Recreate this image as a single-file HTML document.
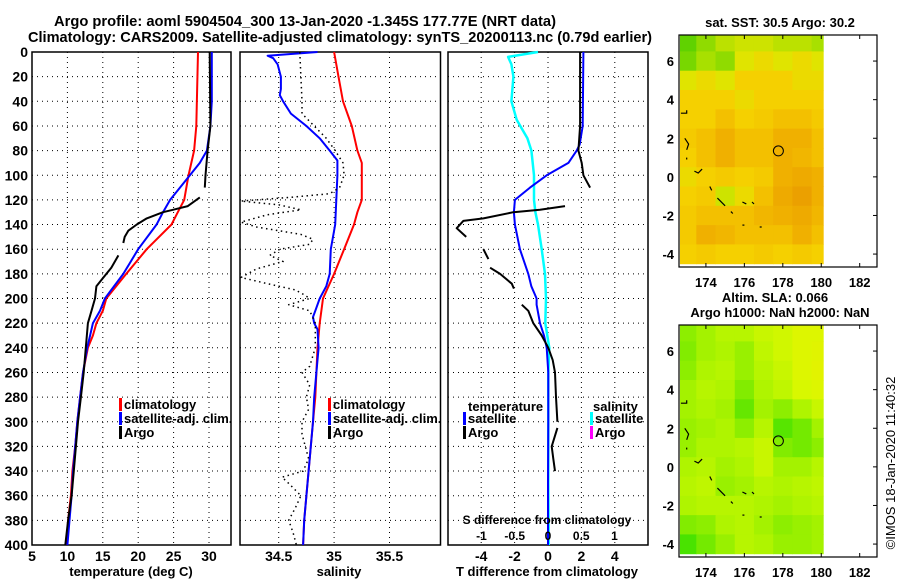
<!DOCTYPE html>
<html><head><meta charset="utf-8">
<style>
html,body{margin:0;padding:0;background:#fff;}
svg{display:block;font-family:"Liberation Sans",sans-serif;font-weight:bold;}
</style></head>
<body>
<svg id="fig" width="900" height="580" viewBox="0 0 900 580" xmlns="http://www.w3.org/2000/svg">
<rect x="0" y="0" width="900" height="580" fill="#fff"/>
<text x="54" y="26" font-size="15" textLength="502" lengthAdjust="spacingAndGlyphs">Argo profile: aoml 5904504_300 13-Jan-2020 -1.345S 177.77E (NRT data)</text>
<text x="28" y="42" font-size="15" textLength="624" lengthAdjust="spacingAndGlyphs">Climatology: CARS2009. Satellite-adjusted climatology: synTS_20200113.nc (0.79d earlier)</text>
<g id="g1"></g>
<g id="g2"></g>
<g id="g3"></g>
<g id="m1"></g>
<g id="m2"></g>
<text x="780" y="27" font-size="13" text-anchor="middle">sat. SST: 30.5 Argo: 30.2</text>
<text x="775" y="302" font-size="13" text-anchor="middle">Altim. SLA: 0.066</text>
<text x="780" y="317" font-size="13" text-anchor="middle">Argo h1000: NaN h2000: NaN</text>
<text font-size="13" font-weight="normal" text-anchor="middle" transform="translate(895,463) rotate(-90)">©IMOS 18-Jan-2020 11:40:32</text>
</svg>
<script>
// ---- Panel 1: temperature ----
const tDepthClim = [0,60,80,100,120,130,140,160,180,200,210,220,230,240,260,280,300,320,340,360,380,400];
const tClim = [28.45,28.2,27.9,27.1,26.5,25.6,24.7,21.2,18.3,15.5,15.0,14.1,13.6,12.9,12.2,11.8,11.4,11.1,10.7,10.5,10.1,9.9];
const tDepthSat = [0,40,60,80,90,100,120,130,140,160,180,200,210,220,230,240,260,280,300,320,340,360,380,400];
const tSat = [30.4,30.4,30.2,29.7,28.7,27.3,24.5,23.5,22.6,20.0,17.9,15.3,14.6,13.6,13.2,12.8,12.2,11.8,11.4,11.1,10.8,10.6,10.3,10.0];
const tDepthArgo = [0,60,80,100,110,null,118,125,128,130,135,140,145,150,155,null,165,175,185,190,200,210,220,240,260,280,300,320,340,360,380,400];
const tArgo = [30.1,30.2,29.8,29.5,29.4,null,28.7,27.0,24.9,23.5,21.2,19.8,18.6,18.1,17.9,null,17.2,16.2,14.8,14.1,13.9,13.4,12.9,12.6,12.3,11.9,11.5,11.2,10.9,10.6,10.1,9.7];
const tTicks = [5,10,15,20,25,30];
// ---- Panel 2: salinity ----
const sDepthClim = [0,20,40,60,80,90,100,120,130,140,160,180,200,220,240,260,280,300,320,340,360,380,400];
const sClim = [35.0,35.04,35.08,35.16,35.21,35.25,35.25,35.25,35.21,35.18,35.09,35.0,34.9,34.87,34.85,34.84,34.83,34.81,34.79,34.77,34.75,34.73,34.72];
const sDepthSat = [0,3,5,10,20,30,35,40,50,60,70,80,88,100,120,140,160,180,190,200,210,215,220,225,240,260,280,300,320,340,360,380,400];
const sSat = [34.85,34.40,34.45,34.49,34.52,34.52,34.51,34.54,34.61,34.75,34.87,34.96,35.03,35.03,35.02,35.01,34.97,34.96,34.93,34.87,34.83,34.81,34.82,34.85,34.86,34.84,34.82,34.81,34.79,34.77,34.75,34.73,34.72];
const sDepthArgo = [0,20,40,50,60,70,80,90,100,110,115,118,121,124,128,132,138,142,148,152,156,160,165,170,176,183,188,193,197,200,205,210,220,240,255,260,270,280,290,300,310,320,330,340,345,350,360,370,380,390,400];
const sArgo = [34.69,34.70,34.71,34.71,34.82,34.93,35.01,35.08,35.09,35.05,34.96,34.6,34.16,34.5,34.7,34.4,34.16,34.3,34.7,34.81,34.78,34.51,34.42,34.54,34.3,34.16,34.4,34.65,34.73,34.78,34.59,34.78,34.83,34.83,34.78,34.71,34.78,34.75,34.77,34.71,34.71,34.74,34.77,34.72,34.53,34.59,34.70,34.65,34.59,34.63,34.66];
const sTicks = [34.5,35,35.5];
// ---- Panel 3: differences ----
const dDepthSatT = [0,60,75,80,90,100,110,120,130,140,160,180,190,200,205,220,230,240,260,300,350,400];
const dSatT = [2.12,2.08,1.9,1.72,1.22,-0.08,-1.08,-1.98,-2.04,-1.98,-1.68,-1.18,-1.0,-0.68,-0.68,-0.48,-0.24,-0.08,0.02,0.02,0.0,0.0];
const dDepthSatS = [0,4,10,20,40,55,70,80,100,120,130,140,160,180,200,220,240,260,300,350,400];
const dSatS = [-0.15,-0.6,-0.55,-0.52,-0.55,-0.47,-0.31,-0.25,-0.21,-0.21,-0.19,-0.15,-0.095,-0.045,-0.03,-0.04,0.02,0.005,0.005,0.005,0.01];
const dDepthArgoT = [0,60,80,90,100,110,null,125,128,130,135,137,143,150,null,160,168,null,175,180,188,192,null,205,210,220,230,240,250,260,280,300,null,305,320,330,340];
const dArgoT = [1.92,1.92,1.82,2.02,2.12,2.52,null,1.02,-0.48,-2.08,-3.87,-5.07,-5.47,-4.9,null,-3.87,-3.57,null,-3.47,-2.87,-2.17,-2.04,null,-1.57,-1.18,-0.88,-0.38,0.02,0.28,0.42,0.48,0.56,null,0.56,0.22,0.32,0.42];
const dTTicks = [-4,-2,0,2,4];
const dSTicks = [-1,-0.5,0,0.5,1];
const depthTicks = [0,20,40,60,80,100,120,140,160,180,200,220,240,260,280,300,320,340,360,380,400];
// ---- Maps (1-degree cells, rows lat 7..-4, cols lon 173..180) ----
const mapLons = [173,174,175,176,177,178,179,180];
const mapLats = [7,6,5,4,3,2,1,0,-1,-2,-3,-4];
const sstVals = [
[0.2,0.3,0.4,0.45,0.45,0.4,0.4,0.35],
[0.25,0.35,0.3,0.5,0.55,0.5,0.55,0.5],
[0.5,0.55,0.5,0.6,0.6,0.6,0.55,0.55],
[0.6,0.6,0.6,0.55,0.6,0.6,0.6,0.6],
[0.6,0.6,0.65,0.6,0.62,0.65,0.65,0.62],
[0.62,0.65,0.7,0.65,0.65,0.7,0.7,0.65],
[0.6,0.65,0.7,0.65,0.65,0.7,0.68,0.65],
[0.55,0.6,0.62,0.6,0.62,0.7,0.72,0.7],
[0.6,0.62,0.45,0.55,0.65,0.72,0.75,0.7],
[0.62,0.65,0.65,0.65,0.68,0.7,0.72,0.68],
[0.62,0.7,0.68,0.65,0.65,0.65,0.7,0.65],
[0.6,0.62,0.6,0.6,0.62,0.6,0.62,0.6]];
const slaVals = [
[0.4,0.5,0.6,0.6,0.7,0.75,0.85,0.85],
[0.35,0.5,0.55,0.45,0.65,0.75,0.85,0.88],
[0.4,0.55,0.6,0.45,0.6,0.7,0.85,0.9],
[0.5,0.6,0.55,0.35,0.55,0.65,0.8,0.85],
[0.5,0.55,0.5,0.25,0.5,0.4,0.55,0.7],
[0.45,0.5,0.55,0.4,0.6,0.2,0.3,0.5],
[0.45,0.55,0.55,0.6,0.7,0.35,0.3,0.4],
[0.55,0.6,0.5,0.55,0.7,0.5,0.5,0.6],
[0.6,0.65,0.45,0.5,0.6,0.55,0.6,0.65],
[0.55,0.6,0.6,0.6,0.55,0.5,0.55,0.6],
[0.35,0.4,0.55,0.6,0.5,0.4,0.45,0.5],
[0.15,0.3,0.45,0.6,0.55,0.45,0.45,0.5]];
const floatLon = [177.77];
const floatLat = [1.345];
const mapXTicks = [174,176,178,180,182];
const mapYTicks = [6,4,2,0,-2,-4];

const NS = "http://www.w3.org/2000/svg";
function mk(tag, attrs, parent){const e=document.createElementNS(NS,tag);for(const k in attrs)e.setAttribute(k,attrs[k]);parent.appendChild(e);return e;}
const PT=52, PB=545;
const yD = d => PT + (d/400)*(PB-PT);

function panel(g, x0, x1, xs, ticks, fmt, showY, name){
  for(const d of depthTicks){
    const y=yD(d);
    const gl=mk('line',{x1:x0,x2:x1,y1:y,y2:y,stroke:'#000','stroke-width':1,'stroke-dasharray':'1,4'},g);
    
    
    if(showY){
      const t=mk('text',{x:x0-4,y:y+5,'font-size':14,'text-anchor':'end'},g);
      t.textContent=d;
      
      
    }
  }
  for(const v of ticks){
    const x=xs(v);
    const gl=mk('line',{x1:x,x2:x,y1:PT,y2:PB,stroke:'#000','stroke-width':1,'stroke-dasharray':'1,4'},g);
    
    
    if(fmt){
      const t=mk('text',{x:x,y:561,'font-size':14,'text-anchor':'middle'},g);
      t.textContent=fmt(v);
      
      
    }
  }
  const fr=mk('rect',{x:x0,y:PT,width:x1-x0,height:PB-PT,fill:'none',stroke:'#000','stroke-width':1.5},g);
  
  
}
function series(g, depths, vals, xs, color, w, dash, name){
  let segs=[],cur=[];
  for(let i=0;i<vals.length;i++){
    if(vals[i]===null||depths[i]===null){if(cur.length)segs.push(cur);cur=[];continue;}
    cur.push(xs(vals[i]).toFixed(1)+','+yD(depths[i]).toFixed(1));
  }
  if(cur.length)segs.push(cur);
  for(const s of segs){
    const p=mk('polyline',{points:s.join(' '),fill:'none',stroke:color,'stroke-width':w,'stroke-linejoin':'round'},g);
    if(dash)p.setAttribute('stroke-dasharray',dash);
    
    
  }
}
function legend(g, x, y, color, label, name){
  const r=mk('rect',{x:x,y:y-9,width:3,height:13,fill:color},g);
  
  
  const t=mk('text',{x:x+5,y:y+2,'font-size':13},g);
  t.textContent=label;
  
  
}
function txt(g,x,y,s,str,name,anchor){
  const t=mk('text',{x:x,y:y,'font-size':s,'text-anchor':anchor||'middle'},g);
  t.textContent=str;
  
  
}

// Panel 1
const g1=document.getElementById('g1');
const xT = v => 32 + (v-5)*(177/25);
panel(g1,32,231,xT,tTicks,v=>v,true,'temperature-panel');
series(g1,tDepthClim,tClim,xT,'#ff0000',2,null,'temperature-climatology-line');
series(g1,tDepthSat,tSat,xT,'#0000ff',2,null,'temperature-satellite-line');
series(g1,tDepthArgo,tArgo,xT,'#000',2,null,'temperature-argo-line');
legend(g1,119,407,'#ff0000','climatology','temp-legend-climatology');
legend(g1,119,421,'#0000ff','satellite-adj. clim.','temp-legend-satellite');
legend(g1,119,435,'#000','Argo','temp-legend-argo');
txt(g1,131,576,13,'temperature (deg C)','temperature-axis-title');

// Panel 2
const g2=document.getElementById('g2');
const xS = v => 278.7 + (v-34.5)*110.8;
panel(g2,240,440.5,xS,sTicks,v=>v,false,'salinity-panel');
series(g2,sDepthClim,sClim,xS,'#ff0000',2,null,'salinity-climatology-line');
series(g2,sDepthSat,sSat,xS,'#0000ff',2,null,'salinity-satellite-line');
series(g2,sDepthArgo,sArgo,xS,'#000',1.5,'1.5,3.5','salinity-argo-line');
legend(g2,328,407,'#ff0000','climatology','sal-legend-climatology');
legend(g2,328,421,'#0000ff','satellite-adj. clim.','sal-legend-satellite');
legend(g2,328,435,'#000','Argo','sal-legend-argo');
txt(g2,339,576,13,'salinity','salinity-axis-title');

// Panel 3
const g3=document.getElementById('g3');
const xDT = v => 548 + v*16.7;
const xDS = v => 548 + v*66.5;
panel(g3,448,648,xDT,dTTicks,v=>v,false,'difference-panel');
series(g3,dDepthSatS,dSatS,xDS,'#00ffff',2.5,null,'salinity-diff-satellite-line');
series(g3,dDepthSatT,dSatT,xDT,'#0000ff',2,null,'temperature-diff-satellite-line');
series(g3,dDepthArgoT,dArgoT,xDT,'#000',2,null,'temperature-diff-argo-line');
txt(g3,468,411,13,'temperature','diff-legend-temperature-heading','start');
legend(g3,463,421,'#0000ff','satellite','diff-legend-temp-satellite');
legend(g3,463,435,'#000','Argo','diff-legend-temp-argo');
txt(g3,593,411,13,'salinity','diff-legend-salinity-heading','start');
legend(g3,590,421,'#00ffff','satellite','diff-legend-sal-satellite');
legend(g3,590,435,'#ff00ff','Argo','diff-legend-sal-argo');
txt(g3,547,524,12,'S difference from climatology','s-diff-axis-title');
for(const v of dSTicks){ txt(g3,xDS(v),540,12,String(v),'s-diff-tick-label'); }
txt(g3,547,576,13,'T difference from climatology','t-diff-axis-title');

// Maps
function mapColorSST(v){
  const stops=[[0,[0,192,0]],[0.35,[168,224,0]],[0.5,[224,228,0]],[0.6,[245,208,0]],[0.7,[240,176,0]],[0.85,[224,128,0]]];
  return interp(stops,v);
}
function mapColorSLA(v){
  const stops=[[0,[30,220,0]],[0.35,[130,236,0]],[0.55,[175,244,0]],[0.8,[216,248,0]],[1,[236,238,0]]];
  return interp(stops,v);
}
function interp(stops,v){
  if(v<=stops[0][0])return 'rgb('+stops[0][1]+')';
  for(let i=1;i<stops.length;i++){
    if(v<=stops[i][0]){const a=stops[i-1],b=stops[i],f=(v-a[0])/(b[0]-a[0]);
      return 'rgb('+a[1].map((c,j)=>Math.round(c+(b[1][j]-c)*f)).join(',')+')';}
  }
  return 'rgb('+stops[stops.length-1][1]+')';
}
function drawMap(g, top, bottom, vals, cfn, name){
  const L=679,R=877,lon0=172.6,lon1=182.9,latT=7.35,latB=-4.67;
  const xm=v=>L+(v-lon0)*(R-L)/(lon1-lon0);
  const ym=v=>top+(latT-v)*(bottom-top)/(latT-latB);
  for(let r=0;r<mapLats.length;r++){
    for(let c=0;c<mapLons.length;c++){
      const lo=Math.max(mapLons[c]-0.5,lon0+0.05), hi=Math.min(mapLons[c]+0.5,180.1);
      const la1=Math.min(mapLats[r]+0.5,latT), la2=Math.max(mapLats[r]-0.5,latB);
      const cell=mk('rect',{x:xm(lo),y:ym(la1),width:xm(hi)-xm(lo)+0.5,height:ym(la2)-ym(la1)+0.5,fill:cfn(vals[r][c])},g);
      
      
    }
  }
  const coast=[[[172.7,3.3],[173.0,3.3],[173.0,3.45]],[[172.9,2.0],[173.1,1.7],[173.0,1.4]],[[173.0,1.0],[173.0,0.9]],[[173.4,0.3],[173.6,0.2],[173.8,0.4]],[[174.2,-0.5],[174.3,-0.7]],[[174.6,-1.1],[175.0,-1.5]],[[175.3,-1.8],[175.4,-1.9]],[[175.9,-1.3],[176.1,-1.4]],[[176.4,-1.3],[176.5,-1.4]],[[175.9,-2.5],[176.0,-2.5]],[[176.8,-2.6],[176.9,-2.6]]];
  for(const cl of coast){
    const p=mk('polyline',{points:cl.map(q=>xm(q[0]).toFixed(1)+','+ym(q[1]).toFixed(1)).join(' '),fill:'none',stroke:'#000','stroke-width':1.2},g);
    
    
  }
  const ci=mk('circle',{cx:xm(floatLon[0]),cy:ym(floatLat[0]),r:5,fill:'none',stroke:'#000','stroke-width':1},g);
  
  
  const fr=mk('rect',{x:L,y:top,width:R-L,height:bottom-top,fill:'none',stroke:'#000','stroke-width':1.2},g);
  
  
  for(const v of mapXTicks){
    const x=xm(v);
    const t1=mk('line',{x1:x,x2:x,y1:top,y2:top+4,stroke:'#000'},g);
    
    
    const t2=mk('line',{x1:x,x2:x,y1:bottom,y2:bottom-4,stroke:'#000'},g);
    
    
    txt(g,x,bottom+20,13,String(v),'map-x-tick-label');
  }
  for(const v of mapYTicks){
    const y=ym(v);
    const t1=mk('line',{x1:R,x2:R-4,y1:y,y2:y,stroke:'#000'},g);
    
    
    txt(g,L-5,y+5,13,String(v),'map-y-tick-label','end');
  }
}
drawMap(document.getElementById('m1'),35,267,sstVals,mapColorSST,'sst-map');
drawMap(document.getElementById('m2'),325,557,slaVals,mapColorSLA,'sla-map');
</script>
</body></html>
